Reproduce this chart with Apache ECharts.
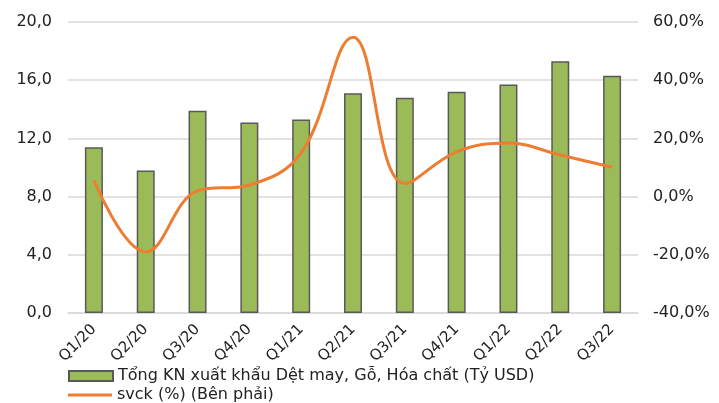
<!DOCTYPE html>
<html><head><meta charset="utf-8">
<script src="https://cdn.jsdelivr.net/npm/echarts@6/dist/echarts.min.js"></script>
<style>html,body{margin:0;padding:0;background:#fff}#c{width:719px;height:403px}</style>
</head><body><div id="c"></div>
<script>
const categories = ['Q1/20','Q2/20','Q3/20','Q4/20','Q1/21','Q2/21','Q3/21','Q4/21','Q1/22','Q2/22','Q3/22'];
const exportValues = [11.4, 9.8, 13.9, 13.1, 13.3, 15.1, 14.8, 15.2, 15.7, 17.3, 16.3];
const yoyValues = [5.5, -19.0, 2.0, 4.0, 15.0, 54.8, 4.5, 15.4, 18.4, 14.3, 10.1];
const barName = 'Tổng KN xuất khẩu Dệt may, Gỗ, Hóa chất (Tỷ USD)';
const lineName = 'svck (%) (Bên phải)';

const FONT = 'DejaVu Sans, Verdana, sans-serif';
const fmt1 = v => v.toFixed(1).replace('.', ',');
const chart = echarts.init(document.getElementById('c'));
chart.setOption({
  animation: false,
  textStyle: {fontFamily: FONT},
  grid: {left: 68, right: 81, top: 22, bottom: 90},
  legend: [
    {left: 68, top: 368, padding: 0, itemWidth: 44, itemHeight: 10, icon: 'rect',
     textStyle: {fontSize: 16, color: '#222', fontFamily: FONT},
     data: [barName]},
    {left: 68, top: 387, padding: 0, itemWidth: 44, itemHeight: 3, icon: 'rect',
     textStyle: {fontSize: 16, color: '#222', fontFamily: FONT},
     data: [lineName]}
  ],
  xAxis: {
    type: 'category', data: categories,
    axisLine: {lineStyle: {color: '#d9d9d9', width: 1.5}},
    axisTick: {show: false},
    axisLabel: {rotate: 45, fontSize: 15, color: '#222', margin: 14, interval: 0, fontFamily: FONT}
  },
  yAxis: [
    {type: 'value', min: 0, max: 20, interval: 4,
     axisLabel: {formatter: fmt1, fontSize: 16, color: '#222', margin: 16, fontFamily: FONT},
     splitLine: {lineStyle: {color: '#d9d9d9', width: 1.5}},
     axisLine: {show: false}, axisTick: {show: false}},
    {type: 'value', min: -40, max: 60, interval: 20,
     axisLabel: {formatter: v => fmt1(v) + '%', fontSize: 16, color: '#222', margin: 15, fontFamily: FONT},
     splitLine: {show: false}, axisLine: {show: false}, axisTick: {show: false}}
  ],
  series: [
    {name: barName, type: 'bar', data: exportValues, barWidth: 18,
     itemStyle: {color: '#9bbb59', borderColor: '#595959', borderWidth: 1.5}},
    {name: lineName, type: 'line', yAxisIndex: 1, data: yoyValues, smooth: 0.4,
     symbol: 'none', lineStyle: {color: '#ed7d31', width: 3}, itemStyle: {color: '#ed7d31'}}
  ]
});
</script></body></html>
